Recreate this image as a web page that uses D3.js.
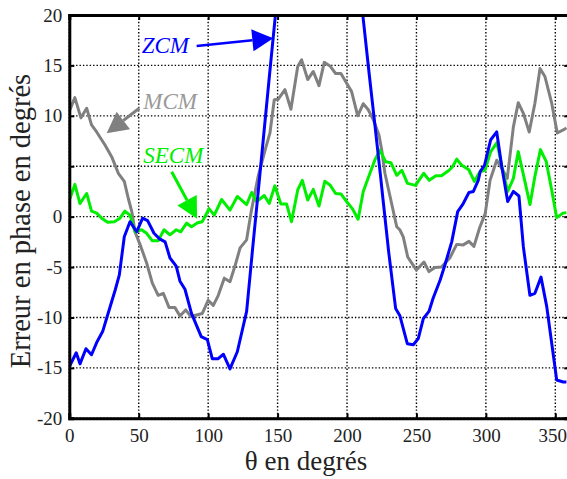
<!DOCTYPE html>
<html>
<head>
<meta charset="utf-8">
<script src="https://cdn.jsdelivr.net/npm/d3@7"></script>
<style>
  html, body { margin: 0; padding: 0; background: #fff; }
  svg { display: block; }
  text { font-family: "Liberation Serif", "Times New Roman", serif; }
</style>
</head>
<body>
<svg id="chart" width="567" height="479"></svg>
<script>
// Phase error (degrees) versus rotor angle theta for three estimation methods.
const zcmTheta = [0, 5, 7.7, 12, 16, 20, 24, 27.6, 33, 36, 39.6, 43.7, 48.5, 52.8, 56.4, 61, 65, 69, 72.5, 77, 79.7, 83.3, 88, 95, 99.4, 103, 107, 111, 115.7, 121, 127.7, 132, 136, 140, 144, 148, 152, 180, 208, 212, 216, 220, 224, 226, 230, 235, 238, 243.4, 247.7, 251.3, 255, 259, 262, 267, 270.5, 275.4, 279.7, 283.7, 287.8, 291, 294.5, 296, 299, 303.4, 307.8, 311.4, 315.7, 319.8, 323.8, 327, 331.7, 335.3, 339.7, 343.8, 351, 355.7, 358];
const zcmValues = [-14.9, -13.5, -14.6, -13.1, -13.7, -12.4, -11.4, -9.75, -7.3, -5.8, -2.0, -0.5, -1.5, -0.15, -0.4, -1.65, -2.2, -2.5, -4.1, -4.9, -6.4, -7.2, -9.6, -11.9, -12.2, -14.1, -14.1, -13.65, -15.1, -13.4, -9.4, -3.2, 2.4, 8.1, 13.8, 19.4, 25, 41, 24.2, 19.2, 14.1, 9.2, 4.2, 1.6, -3.5, -9.1, -9.8, -12.6, -12.7, -12.1, -10.1, -9.4, -8.1, -6.3, -4.8, -2.5, 0.5, 1.3, 2.4, 2.5, 3.6, 4.5, 5.1, 7.6, 8.4, 5.0, 1.5, 2.5, 2.05, -3.0, -7.8, -7.6, -6.0, -8.9, -16.2, -16.4, -16.4];

const mcmTheta = [0.5, 4, 8.4, 12.5, 16, 19.7, 25.7, 30.5, 35.3, 39.6, 42.5, 45, 47.3, 51.6, 55.7, 59.8, 64, 67.7, 71.8, 76, 79.7, 83.8, 87.6, 91.7, 95.8, 100, 103.7, 107.3, 111.6, 115.7, 119.3, 123, 127.7, 131, 136, 141, 144.5, 147.6, 150.5, 155.3, 159.6, 164.5, 167.3, 171.7, 175.7, 179.8, 183.6, 187.7, 191.8, 195.6, 199, 203.3, 207.7, 211.7, 215.3, 219, 223, 225, 227.3, 231, 235.8, 238, 240.5, 243.7, 250, 255.4, 259, 263.3, 268, 274, 279, 283.7, 287.8, 291.4, 295.5, 299.5, 303, 307.8, 311.4, 315.4, 319.8, 323.3, 327, 331.2, 335.3, 339, 342.5, 347.4, 351.4, 355.7, 358];
const mcmValues = [10.6, 11.8, 9.8, 10.75, 9.1, 8.4, 7.1, 5.95, 4.3, 3.5, 1.8, 0.5, -1.5, -3.0, -4.6, -6.6, -7.8, -7.6, -9.0, -9.0, -9.85, -9.25, -9.9, -9.75, -9.6, -8.3, -8.8, -7.8, -6.1, -6.45, -4.9, -3.1, -2.3, 0.5, 4.0, 6.6, 8.3, 11.6, 11.65, 12.6, 10.65, 14.9, 15.55, 13.6, 14.4, 13.0, 15.3, 14.95, 14.2, 14.2, 13.4, 12.4, 10.0, 11.2, 10.6, 9.6, 8.1, 6.6, 4.3, 2.0, -1.0, -1.3, -2.0, -4.0, -5.3, -4.5, -5.45, -5.05, -5.0, -4.1, -2.75, -2.8, -2.45, -2.95, -1.1, 0.3, 3.6, 5.6, 4.8, 3.8, 8.9, 11.3, 10.25, 8.4, 11.25, 14.7, 13.9, 11.25, 8.3, 8.6, 8.8];

const secmTheta = [0.5, 4, 7.7, 12.5, 16, 19.7, 23.3, 27.6, 32.4, 36.5, 40, 43.7, 47.3, 52, 55.7, 59.8, 64, 68.2, 72.5, 77, 80.2, 84.5, 88, 92.4, 95.8, 100.6, 104.4, 109.7, 115.7, 121, 127.7, 131.3, 135, 140.4, 144, 148, 152.4, 156.5, 160, 164.5, 167.8, 171.7, 175.7, 179.8, 184, 187.7, 191.8, 195.6, 199.7, 203.8, 208, 211.7, 216.5, 220, 223.7, 227.8, 231.6, 235.8, 239.5, 243.5, 249.3, 255.2, 259.2, 264, 268, 273.5, 276, 279, 282.6, 287.7, 291.7, 295.7, 299.3, 303.5, 308, 311.7, 315.7, 319.8, 323.3, 327.6, 331.8, 335.3, 339.3, 343.5, 347.4, 351, 355.5, 358];
const secmValues = [1.8, 3.2, 1.3, 2.3, 0.55, 0.35, -0.15, -0.55, -0.5, -0.15, 0.55, 0.15, -1.5, -1.3, -1.65, -2.4, -2.4, -1.3, -1.8, -1.3, -1.5, -0.65, -1.0, -0.6, -0.5, 0.8, 0.15, 1.7, 0.65, 2.0, 1.2, 2.4, 1.5, 2.1, 1.3, 3.05, 1.25, 1.25, -0.5, 2.65, 3.6, 1.65, 2.7, 1.05, 3.5, 3.15, 2.3, 2.25, 1.5, 0.8, -0.25, 2.5, 4.3, 5.6, 6.6, 5.45, 5.35, 4.1, 4.6, 3.3, 3.1, 4.3, 3.6, 4.05, 4.05, 4.6, 4.95, 5.7, 5.1, 4.65, 3.5, 4.45, 4.6, 6.45, 7.35, 4.85, 2.5, 3.8, 6.45, 3.8, 1.2, 4.0, 6.65, 5.45, 2.65, -0.1, 0.35, 0.4];

const xTicks = [0, 50, 100, 150, 200, 250, 300, 350];
const yTicks = [-20, -15, -10, -5, 0, 5, 10, 15, 20];
const yTickLabels = ["-20", "-15", "-10", "-5", "0", "", "10", "15", "20"];

const seriesNames = ["ZCM", "MCM", "SECM"];
const seriesColors = ["#0000ff", "#808080", "#00ee00"];

const svg = d3.select("#chart");
const plotLeft = 69.3, plotRight = 569.2, plotTop = 15, plotBottom = 418.3;
const serif = "'Liberation Serif', 'Times New Roman', serif";

const x = d3.scaleLinear().domain([0, 360]).range([plotLeft, plotRight]);
const y = d3.scaleLinear().domain([-20, 20]).range([plotBottom, plotTop]);

// dotted grid
const grid = svg.append("g");
grid.selectAll(".gx").data(xTicks).join("line")
  .attr("x1", d => x(d)).attr("x2", d => x(d))
  .attr("y1", plotTop).attr("y2", plotBottom)
  .attr("stroke", "#000").attr("stroke-width", 1.4)
  .attr("stroke-dasharray", "1.4,2");
grid.selectAll(".gy").data(yTicks).join("line")
  .attr("x1", plotLeft).attr("x2", plotRight)
  .attr("y1", d => y(d)).attr("y2", d => y(d))
  .attr("stroke", "#000").attr("stroke-width", 1.4)
  .attr("stroke-dasharray", "1.4,2");

// data curves, clipped to the plotting box
svg.append("clipPath").attr("id", "plotclip")
  .append("rect").attr("x", plotLeft).attr("y", plotTop)
  .attr("width", plotRight - plotLeft).attr("height", plotBottom - plotTop);

const line = d3.line().x(d => x(d[0])).y(d => y(d[1]));
const series = [
  { name: seriesNames[1], theta: mcmTheta, values: mcmValues, color: seriesColors[1] },
  { name: seriesNames[2], theta: secmTheta, values: secmValues, color: seriesColors[2] },
  { name: seriesNames[0], theta: zcmTheta, values: zcmValues, color: seriesColors[0] }
];
const curves = svg.append("g").attr("clip-path", "url(#plotclip)");
series.forEach(s => {
  curves.append("path")
    .datum(s.theta.map((t, i) => [t, s.values[i]]))
    .attr("d", line)
    .attr("fill", "none")
    .attr("stroke", s.color)
    .attr("stroke-width", 3)
    .attr("stroke-linejoin", "round");
});

// axes with inward ticks
const axLeft = svg.append("g").attr("transform", `translate(${plotLeft},0)`)
  .call(d3.axisLeft(y).tickValues(yTicks).tickSize(-5).tickPadding(7)
    .tickFormat((d, i) => yTickLabels[i]));
const axRight = svg.append("g").attr("transform", `translate(${plotRight},0)`)
  .call(d3.axisRight(y).tickValues(yTicks).tickSize(-5).tickFormat(""));
const axBottom = svg.append("g").attr("transform", `translate(0,${plotBottom})`)
  .call(d3.axisBottom(x).tickValues(xTicks).tickSize(-5).tickPadding(10)
    .tickFormat(d3.format("d")));
const axTop = svg.append("g").attr("transform", `translate(0,${plotTop})`)
  .call(d3.axisTop(x).tickValues(xTicks).tickSize(-5).tickFormat(""));

[axLeft, axRight, axBottom, axTop].forEach(a => {
  a.attr("font-family", serif).attr("font-size", 19);
  a.select(".domain").attr("stroke", "#000").attr("stroke-width", 3);
  a.selectAll(".tick line").attr("stroke", "#000").attr("stroke-width", 2);
  a.selectAll(".tick text").attr("fill", "#222")
    .attr("font-family", serif).attr("font-size", 19);
});
// keep the last x label inside the frame edge
axBottom.selectAll(".tick text").filter(d => d === 350).attr("dx", -3);

// axis titles
svg.append("text")
  .attr("x", 306).attr("y", 470)
  .attr("text-anchor", "middle").attr("fill", "#222")
  .attr("font-family", serif).attr("font-size", 27)
  .text("θ en degrés");
svg.append("text")
  .attr("transform", `translate(30,221) rotate(-90)`)
  .attr("text-anchor", "middle").attr("fill", "#222")
  .attr("font-family", serif).attr("font-size", 28.5)
  .text("Erreur en phase en degrés");

// annotation labels with arrows pointing at each curve
const notes = [
  { name: seriesNames[0], color: "#0000ff", textColor: "#0000ff", at: [52.1, 16.2], from: [91.7, 16.93], to: [146.9, 17.7], w: 2.5 },
  { name: seriesNames[1], color: "#808080", textColor: "#9a9a9a", at: [53.3, 10.65], from: [50.4, 10.75], to: [26.9, 8.27], w: 3 },
  { name: seriesNames[2], color: "#00ee00", textColor: "#00ee00", at: [53.3, 5.3], from: [73.7, 4.46], to: [92.0, -0.2], w: 3 }
];
const ann = svg.append("g");
notes.forEach(n => {
  ann.append("text")
    .attr("x", x(n.at[0])).attr("y", y(n.at[1]))
    .attr("fill", n.textColor)
    .attr("font-family", serif).attr("font-size", 23).attr("font-style", "italic")
    .text(n.name);
  const x0 = x(n.from[0]), y0 = y(n.from[1]);
  const x1 = x(n.to[0]), y1 = y(n.to[1]);
  const dx = x1 - x0, dy = y1 - y0, L = Math.hypot(dx, dy);
  const ux = dx / L, uy = dy / L;
  const headLen = 21, halfW = 11;
  const bx = x1 - ux * headLen, by = y1 - uy * headLen;
  ann.append("line")
    .attr("x1", x0).attr("y1", y0).attr("x2", bx).attr("y2", by)
    .attr("stroke", n.color).attr("stroke-width", n.w);
  ann.append("path")
    .attr("d", `M${x1},${y1}L${bx - uy * halfW},${by + ux * halfW}L${bx + uy * halfW},${by - ux * halfW}Z`)
    .attr("fill", n.color);
});
</script>
</body>
</html>
